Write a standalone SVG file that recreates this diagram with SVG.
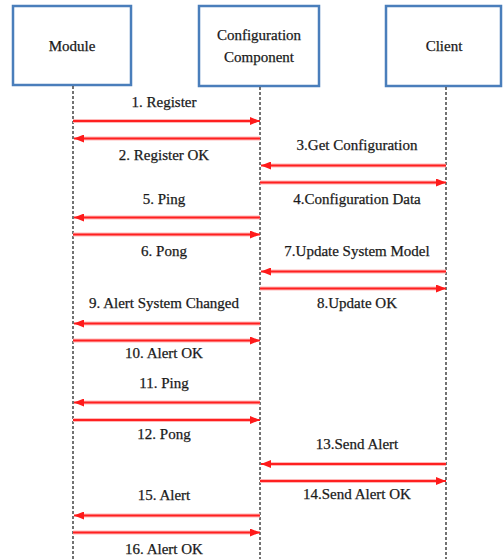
<svg xmlns="http://www.w3.org/2000/svg" width="503" height="559" viewBox="0 0 503 559">
  <style>
    .box { fill: #ffffff; stroke: #4a7ebb; stroke-width: 2.5; }
    .life { stroke: #444444; stroke-width: 1.5; stroke-dasharray: 3 2; fill: none; }
    .halo { stroke: #ffb8b8; stroke-width: 4; fill: none; }
    .msg { stroke: #ff2020; stroke-width: 2; fill: none; marker-end: url(#head); }
    .lbl { font-size: 15px; fill: #1a1a1a; stroke: #1a1a1a; stroke-width: 0.25; text-anchor: middle; dominant-baseline: central; }
  </style>
  <defs>
    <marker id="head" viewBox="0 0 10 8" refX="10" refY="4" markerWidth="10" markerHeight="8" markerUnits="userSpaceOnUse" orient="auto">
      <path d="M0,0 L10,4 L0,8 Z" fill="#ff1a1a"/>
    </marker>
  </defs>
  <rect width="503" height="559" fill="#ffffff"/>

  <g font-family="'Liberation Serif', 'DejaVu Serif', serif">
    <!-- participants -->
    <g id="module">
      <rect class="box" x="13" y="6" width="118" height="79"/>
      <text class="lbl" x="72" y="46">Module</text>
    </g>
    <g id="configuration-component">
      <rect class="box" x="199" y="6" width="120" height="80"/>
      <text class="lbl" x="259" y="35">Configuration</text>
      <text class="lbl" x="259" y="57">Component</text>
    </g>
    <g id="client">
      <rect class="box" x="386" y="6" width="115" height="80"/>
      <text class="lbl" x="444" y="46">Client</text>
    </g>

    <!-- lifelines -->
    <g id="lifelines">
      <line class="life" x1="73" y1="86" x2="73" y2="559"/>
      <line class="life" x1="260" y1="87" x2="260" y2="559"/>
      <line class="life" x1="446" y1="87" x2="446" y2="559"/>
    </g>

    <!-- messages -->
    <g id="connectors">
      <g class="halos">
        <line class="halo" x1="73" y1="121" x2="252" y2="121"/>
        <line class="halo" x1="260" y1="138.5" x2="82" y2="138.5"/>
        <line class="halo" x1="446" y1="165.5" x2="268" y2="165.5"/>
        <line class="halo" x1="260" y1="182.5" x2="438" y2="182.5"/>
        <line class="halo" x1="260" y1="217.5" x2="82" y2="217.5"/>
        <line class="halo" x1="73" y1="234.5" x2="252" y2="234.5"/>
        <line class="halo" x1="446" y1="271.5" x2="268" y2="271.5"/>
        <line class="halo" x1="260" y1="288.5" x2="438" y2="288.5"/>
        <line class="halo" x1="260" y1="323.5" x2="82" y2="323.5"/>
        <line class="halo" x1="73" y1="340.5" x2="252" y2="340.5"/>
        <line class="halo" x1="260" y1="402.5" x2="82" y2="402.5"/>
        <line class="halo" x1="73" y1="420" x2="252" y2="420"/>
        <line class="halo" x1="446" y1="464" x2="268" y2="464"/>
        <line class="halo" x1="260" y1="481" x2="438" y2="481"/>
        <line class="halo" x1="260" y1="515.5" x2="82" y2="515.5"/>
        <line class="halo" x1="73" y1="532.5" x2="252" y2="532.5"/>
      </g>
      <line class="msg" x1="73" y1="121" x2="260" y2="121"/>
      <line class="msg" x1="260" y1="138.5" x2="74" y2="138.5"/>
      <line class="msg" x1="446" y1="165.5" x2="261" y2="165.5"/>
      <line class="msg" x1="260" y1="182.5" x2="446" y2="182.5"/>
      <line class="msg" x1="260" y1="217.5" x2="74" y2="217.5"/>
      <line class="msg" x1="73" y1="234.5" x2="260" y2="234.5"/>
      <line class="msg" x1="446" y1="271.5" x2="261" y2="271.5"/>
      <line class="msg" x1="260" y1="288.5" x2="446" y2="288.5"/>
      <line class="msg" x1="260" y1="323.5" x2="74" y2="323.5"/>
      <line class="msg" x1="73" y1="340.5" x2="260" y2="340.5"/>
      <line class="msg" x1="260" y1="402.5" x2="74" y2="402.5"/>
      <line class="msg" x1="73" y1="420" x2="260" y2="420"/>
      <line class="msg" x1="446" y1="464" x2="261" y2="464"/>
      <line class="msg" x1="260" y1="481" x2="446" y2="481"/>
      <line class="msg" x1="260" y1="515.5" x2="74" y2="515.5"/>
      <line class="msg" x1="73" y1="532.5" x2="260" y2="532.5"/>
    </g>

    <!-- message labels -->
    <g id="labels">
      <text class="lbl" x="164" y="102">1. Register</text>
      <text class="lbl" x="164" y="155">2. Register OK</text>
      <text class="lbl" x="357" y="145">3.Get Configuration</text>
      <text class="lbl" x="357" y="198.5">4.Configuration Data</text>
      <text class="lbl" x="164" y="199">5. Ping</text>
      <text class="lbl" x="164" y="251">6. Pong</text>
      <text class="lbl" x="357" y="250.5">7.Update System Model</text>
      <text class="lbl" x="357" y="303">8.Update OK</text>
      <text class="lbl" x="164" y="302.5">9. Alert System Changed</text>
      <text class="lbl" x="164" y="353">10. Alert OK</text>
      <text class="lbl" x="164" y="383">11. Ping</text>
      <text class="lbl" x="164" y="434">12. Pong</text>
      <text class="lbl" x="357" y="444">13.Send Alert</text>
      <text class="lbl" x="357" y="493.5">14.Send Alert OK</text>
      <text class="lbl" x="164" y="495">15. Alert</text>
      <text class="lbl" x="164" y="548.5">16. Alert OK</text>
    </g>
  </g>
</svg>
